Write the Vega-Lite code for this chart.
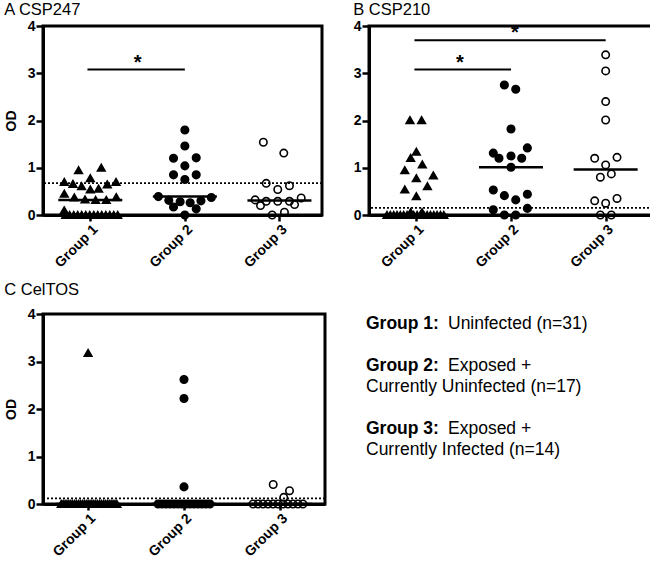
{
  "$schema": "https://vega.github.io/schema/vega-lite/v6.json",
  "padding": {"left": 2, "top": 0, "right": 0, "bottom": 0},
  "background": "white",
  "config": {
    "font": "Liberation Sans",
    "view": {"stroke": "black", "strokeWidth": 3},
    "axis": {
      "grid": false, "domainColor": "black", "domainWidth": 3, "tickColor": "black", "tickWidth": 2.5, "tickSize": 6,
      "labelFont": "Liberation Sans", "labelFontWeight": "bold", "labelFontSize": 14, "labelColor": "black", "labelPadding": 1,
      "labelFlush": false, "labelOverlap": false,
      "titleFont": "Liberation Sans", "titleFontWeight": "bold", "titleFontSize": 14, "titleColor": "black", "titlePadding": 9
    },
    "axisX": {"labelAngle": -45, "labelAlign": "right", "labelBaseline": "top", "labelPadding": 1, "labelFontSize": 14},
    "axisY": {"tickSize": 7},
    "title": {"anchor": "start", "frame": "bounds", "fontSize": 16.5, "fontWeight": "normal", "font": "Liberation Sans", "color": "black", "offset": 1}
  },
  "datasets": {
    "pts": [
      {"p":"A","g":1,"x":0.876,"od":0.95},{"p":"A","g":1,"x":1.116,"od":1.0},{"p":"A","g":1,"x":1.0,"od":0.78},
      {"p":"A","g":1,"x":0.725,"od":0.70},{"p":"A","g":1,"x":0.817,"od":0.66},{"p":"A","g":1,"x":0.908,"od":0.61},{"p":"A","g":1,"x":1.0,"od":0.54},{"p":"A","g":1,"x":1.088,"od":0.56},{"p":"A","g":1,"x":1.18,"od":0.65},{"p":"A","g":1,"x":1.272,"od":0.70},
      {"p":"A","g":1,"x":0.725,"od":0.45},{"p":"A","g":1,"x":0.831,"od":0.37},{"p":"A","g":1,"x":0.944,"od":0.33},{"p":"A","g":1,"x":1.056,"od":0.32},{"p":"A","g":1,"x":1.169,"od":0.32},{"p":"A","g":1,"x":1.275,"od":0.38},
      {"p":"A","g":1,"x":0.725,"od":0.10},
      {"p":"A","g":1,"x":0.74,"od":0},{"p":"A","g":1,"x":0.782,"od":0},{"p":"A","g":1,"x":0.825,"od":0},{"p":"A","g":1,"x":0.867,"od":0},{"p":"A","g":1,"x":0.909,"od":0},{"p":"A","g":1,"x":0.952,"od":0},{"p":"A","g":1,"x":0.994,"od":0},
      {"p":"A","g":1,"x":1.037,"od":0},{"p":"A","g":1,"x":1.079,"od":0},{"p":"A","g":1,"x":1.121,"od":0},{"p":"A","g":1,"x":1.164,"od":0},{"p":"A","g":1,"x":1.206,"od":0},{"p":"A","g":1,"x":1.248,"od":0},{"p":"A","g":1,"x":1.29,"od":0},

      {"p":"A","g":2,"x":2.0,"od":1.80},{"p":"A","g":2,"x":2.0,"od":1.46},{"p":"A","g":2,"x":1.88,"od":1.20},{"p":"A","g":2,"x":2.12,"od":1.21},{"p":"A","g":2,"x":2.0,"od":1.04},
      {"p":"A","g":2,"x":1.88,"od":0.85},{"p":"A","g":2,"x":2.12,"od":0.85},{"p":"A","g":2,"x":2.0,"od":0.75},{"p":"A","g":2,"x":1.72,"od":0.39},{"p":"A","g":2,"x":2.28,"od":0.37},
      {"p":"A","g":2,"x":1.83,"od":0.31},{"p":"A","g":2,"x":1.95,"od":0.28},{"p":"A","g":2,"x":2.056,"od":0.26},{"p":"A","g":2,"x":2.17,"od":0.30},{"p":"A","g":2,"x":1.88,"od":0.17},
      {"p":"A","g":2,"x":2.12,"od":0.13},{"p":"A","g":2,"x":2.0,"od":0.0},

      {"p":"A","g":3,"x":2.83,"od":1.54},{"p":"A","g":3,"x":3.046,"od":1.31},{"p":"A","g":3,"x":2.86,"od":0.67},{"p":"A","g":3,"x":3.106,"od":0.62},{"p":"A","g":3,"x":2.982,"od":0.54},
      {"p":"A","g":3,"x":2.743,"od":0.32},{"p":"A","g":3,"x":3.23,"od":0.36},{"p":"A","g":3,"x":2.86,"od":0.29},{"p":"A","g":3,"x":2.982,"od":0.29},{"p":"A","g":3,"x":3.106,"od":0.29},
      {"p":"A","g":3,"x":2.80,"od":0.20},{"p":"A","g":3,"x":3.16,"od":0.22},{"p":"A","g":3,"x":2.923,"od":0.0},{"p":"A","g":3,"x":3.053,"od":0.06},

      {"p":"B","g":1,"x":0.933,"od":2.01},{"p":"B","g":1,"x":1.056,"od":2.01},{"p":"B","g":1,"x":1.0,"od":1.34},{"p":"B","g":1,"x":0.94,"od":1.21},{"p":"B","g":1,"x":1.063,"od":1.07},
      {"p":"B","g":1,"x":0.878,"od":0.95},{"p":"B","g":1,"x":1.0,"od":0.78},{"p":"B","g":1,"x":1.18,"od":0.84},{"p":"B","g":1,"x":1.117,"od":0.61},{"p":"B","g":1,"x":0.878,"od":0.54},
      {"p":"B","g":1,"x":1.0,"od":0.40},{"p":"B","g":1,"x":0.94,"od":0.06},{"p":"B","g":1,"x":1.06,"od":0.06},
      {"p":"B","g":1,"x":0.69,"od":0},{"p":"B","g":1,"x":0.725,"od":0},{"p":"B","g":1,"x":0.761,"od":0},{"p":"B","g":1,"x":0.796,"od":0},{"p":"B","g":1,"x":0.831,"od":0},{"p":"B","g":1,"x":0.866,"od":0},
      {"p":"B","g":1,"x":0.902,"od":0},{"p":"B","g":1,"x":0.937,"od":0},{"p":"B","g":1,"x":0.972,"od":0},{"p":"B","g":1,"x":1.008,"od":0},{"p":"B","g":1,"x":1.043,"od":0},{"p":"B","g":1,"x":1.078,"od":0},
      {"p":"B","g":1,"x":1.114,"od":0},{"p":"B","g":1,"x":1.149,"od":0},{"p":"B","g":1,"x":1.184,"od":0},{"p":"B","g":1,"x":1.219,"od":0},{"p":"B","g":1,"x":1.255,"od":0},{"p":"B","g":1,"x":1.29,"od":0},

      {"p":"B","g":2,"x":1.93,"od":2.75},{"p":"B","g":2,"x":2.05,"od":2.66},{"p":"B","g":2,"x":2.0,"od":1.82},{"p":"B","g":2,"x":1.813,"od":1.31},{"p":"B","g":2,"x":1.873,"od":1.20},
      {"p":"B","g":2,"x":2.0,"od":1.25},{"p":"B","g":2,"x":2.113,"od":1.20},{"p":"B","g":2,"x":2.173,"od":1.42},{"p":"B","g":2,"x":2.0,"od":1.01},{"p":"B","g":2,"x":1.813,"od":0.53},
      {"p":"B","g":2,"x":1.93,"od":0.41},{"p":"B","g":2,"x":2.05,"od":0.32},{"p":"B","g":2,"x":2.173,"od":0.44},{"p":"B","g":2,"x":1.813,"od":0.11},{"p":"B","g":2,"x":2.173,"od":0.14},
      {"p":"B","g":2,"x":1.93,"od":0.0},{"p":"B","g":2,"x":2.05,"od":0.0},

      {"p":"B","g":3,"x":3.0,"od":3.39},{"p":"B","g":3,"x":3.0,"od":3.05},{"p":"B","g":3,"x":3.0,"od":2.40},{"p":"B","g":3,"x":3.0,"od":2.01},{"p":"B","g":3,"x":2.884,"od":1.20},
      {"p":"B","g":3,"x":3.12,"od":1.22},{"p":"B","g":3,"x":3.0,"od":1.06},{"p":"B","g":3,"x":2.944,"od":0.80},{"p":"B","g":3,"x":3.06,"od":0.87},{"p":"B","g":3,"x":2.884,"od":0.30},
      {"p":"B","g":3,"x":3.0,"od":0.25},{"p":"B","g":3,"x":3.12,"od":0.35},{"p":"B","g":3,"x":2.944,"od":0.0},{"p":"B","g":3,"x":3.06,"od":0.0},

      {"p":"C","g":1,"x":1.0,"od":3.18},
      {"p":"C","g":1,"x":0.72,"od":0},{"p":"C","g":1,"x":0.74,"od":0},{"p":"C","g":1,"x":0.76,"od":0},{"p":"C","g":1,"x":0.78,"od":0},{"p":"C","g":1,"x":0.80,"od":0},{"p":"C","g":1,"x":0.82,"od":0},
      {"p":"C","g":1,"x":0.84,"od":0},{"p":"C","g":1,"x":0.86,"od":0},{"p":"C","g":1,"x":0.88,"od":0},{"p":"C","g":1,"x":0.90,"od":0},{"p":"C","g":1,"x":0.92,"od":0},{"p":"C","g":1,"x":0.94,"od":0},
      {"p":"C","g":1,"x":0.96,"od":0},{"p":"C","g":1,"x":0.98,"od":0},{"p":"C","g":1,"x":1.00,"od":0},{"p":"C","g":1,"x":1.02,"od":0},{"p":"C","g":1,"x":1.04,"od":0},{"p":"C","g":1,"x":1.06,"od":0},
      {"p":"C","g":1,"x":1.08,"od":0},{"p":"C","g":1,"x":1.10,"od":0},{"p":"C","g":1,"x":1.12,"od":0},{"p":"C","g":1,"x":1.14,"od":0},{"p":"C","g":1,"x":1.16,"od":0},{"p":"C","g":1,"x":1.18,"od":0},
      {"p":"C","g":1,"x":1.20,"od":0},{"p":"C","g":1,"x":1.22,"od":0},{"p":"C","g":1,"x":1.24,"od":0},{"p":"C","g":1,"x":1.26,"od":0},{"p":"C","g":1,"x":1.28,"od":0},{"p":"C","g":1,"x":1.30,"od":0},

      {"p":"C","g":2,"x":2.0,"od":2.62},{"p":"C","g":2,"x":2.0,"od":2.22},{"p":"C","g":2,"x":2.0,"od":0.36},
      {"p":"C","g":2,"x":1.73,"od":0},{"p":"C","g":2,"x":1.772,"od":0},{"p":"C","g":2,"x":1.813,"od":0},{"p":"C","g":2,"x":1.855,"od":0},{"p":"C","g":2,"x":1.896,"od":0},{"p":"C","g":2,"x":1.938,"od":0},
      {"p":"C","g":2,"x":1.979,"od":0},{"p":"C","g":2,"x":2.021,"od":0},{"p":"C","g":2,"x":2.062,"od":0},{"p":"C","g":2,"x":2.104,"od":0},{"p":"C","g":2,"x":2.145,"od":0},{"p":"C","g":2,"x":2.187,"od":0},
      {"p":"C","g":2,"x":2.228,"od":0},{"p":"C","g":2,"x":2.27,"od":0},

      {"p":"C","g":3,"x":2.93,"od":0.41},{"p":"C","g":3,"x":3.10,"od":0.28},{"p":"C","g":3,"x":3.04,"od":0.14},
      {"p":"C","g":3,"x":2.72,"od":0},{"p":"C","g":3,"x":2.772,"od":0},{"p":"C","g":3,"x":2.824,"od":0},{"p":"C","g":3,"x":2.876,"od":0},{"p":"C","g":3,"x":2.928,"od":0},{"p":"C","g":3,"x":2.98,"od":0},
      {"p":"C","g":3,"x":3.032,"od":0},{"p":"C","g":3,"x":3.084,"od":0},{"p":"C","g":3,"x":3.136,"od":0},{"p":"C","g":3,"x":3.188,"od":0},{"p":"C","g":3,"x":3.24,"od":0}
    ],
    "legendText": [
      {"line": 0, "b": "Group 1:", "t": "Uninfected (n=31)"},
      {"line": 2, "b": "Group 2:", "t": "Exposed +"},
      {"line": 3, "b": "", "t": "Currently Uninfected (n=17)"},
      {"line": 5, "b": "Group 3:", "t": "Exposed +"},
      {"line": 6, "b": "", "t": "Currently Infected (n=14)"}
    ]
  },
  "vconcat": [
    {
      "spacing": 26,
      "hconcat": [
        {
          "width": 279, "height": 189,
          "title": {"text": "A CSP247"},
          "layer": [
            {"data": {"values": [{}]}, "mark": {"type": "rule", "strokeDash": [2, 2], "strokeWidth": 1.8, "color": "black"}, "encoding": {"y": {"datum": 0.675, "type": "quantitative"}}},
            {"data": {"name": "pts"}, "transform": [{"filter": "datum.p === 'A'"}],
             "mark": {"type": "point", "filled": true, "opacity": 1, "stroke": "black", "strokeWidth": 1.6},
             "encoding": {
               "x": {"field": "x", "type": "quantitative", "scale": {"domain": [0.5, 3.45], "nice": false, "zero": false}, "axis": {"values": [1, 2, 3], "labelExpr": "'Group ' + datum.value", "title": null}},
               "y": {"field": "od", "type": "quantitative", "scale": {"domain": [0, 4], "nice": false}, "axis": {"values": [0, 1, 2, 3, 4], "title": "OD"}},
               "shape": {"field": "g", "type": "nominal", "scale": {"domain": [1, 2, 3], "range": ["triangle-up", "circle", "circle"]}, "legend": null},
               "fill": {"field": "g", "type": "nominal", "scale": {"domain": [1, 2, 3], "range": ["black", "black", "transparent"]}, "legend": null},
               "size": {"field": "g", "type": "ordinal", "scale": {"domain": [1, 2, 3], "range": [58, 55, 60]}, "legend": null}
             }},
            {"data": {"name": "pts"}, "transform": [{"filter": "datum.p === 'A'"}, {"aggregate": [{"op": "median", "field": "od", "as": "med"}], "groupby": ["g"]}],
             "mark": {"type": "tick", "orient": "horizontal", "size": 64, "thickness": 2.5, "color": "black", "opacity": 1},
             "encoding": {"x": {"field": "g", "type": "quantitative"}, "y": {"field": "med", "type": "quantitative"}}},
            {"data": {"values": [{}]}, "mark": {"type": "rule", "strokeWidth": 2, "color": "black"}, "encoding": {"x": {"datum": 0.97}, "x2": {"datum": 2.0}, "y": {"datum": 3.08}}},
            {"data": {"values": [{}]}, "mark": {"type": "text", "text": "*", "fontSize": 20, "fontWeight": "bold", "baseline": "alphabetic", "align": "center", "color": "black"}, "encoding": {"x": {"datum": 1.5}, "y": {"datum": 3.1}}}
          ]
        },
        {
          "width": 284, "height": 189,
          "title": {"text": "B CSP210"},
          "layer": [
            {"data": {"values": [{}]}, "mark": {"type": "rule", "strokeDash": [2, 2], "strokeWidth": 1.8, "color": "black"}, "encoding": {"y": {"datum": 0.15, "type": "quantitative"}}},
            {"data": {"name": "pts"}, "transform": [{"filter": "datum.p === 'B'"}],
             "mark": {"type": "point", "filled": true, "opacity": 1, "stroke": "black", "strokeWidth": 1.6},
             "encoding": {
               "x": {"field": "x", "type": "quantitative", "scale": {"domain": [0.5, 3.5], "nice": false, "zero": false}, "axis": {"values": [1, 2, 3], "labelExpr": "'Group ' + datum.value", "title": null}},
               "y": {"field": "od", "type": "quantitative", "scale": {"domain": [0, 4], "nice": false}, "axis": {"values": [0, 1, 2, 3, 4], "title": null}},
               "shape": {"field": "g", "type": "nominal", "scale": {"domain": [1, 2, 3], "range": ["triangle-up", "circle", "circle"]}, "legend": null},
               "fill": {"field": "g", "type": "nominal", "scale": {"domain": [1, 2, 3], "range": ["black", "black", "transparent"]}, "legend": null},
               "size": {"field": "g", "type": "ordinal", "scale": {"domain": [1, 2, 3], "range": [58, 55, 60]}, "legend": null}
             }},
            {"data": {"name": "pts"}, "transform": [{"filter": "datum.p === 'B'"}, {"aggregate": [{"op": "median", "field": "od", "as": "med"}], "groupby": ["g"]}],
             "mark": {"type": "tick", "orient": "horizontal", "size": 64, "thickness": 2.5, "color": "black", "opacity": 1},
             "encoding": {"x": {"field": "g", "type": "quantitative"}, "y": {"field": "med", "type": "quantitative"}}},
            {"data": {"values": [{}]}, "mark": {"type": "rule", "strokeWidth": 2, "color": "black"}, "encoding": {"x": {"datum": 0.98}, "x2": {"datum": 2.0}, "y": {"datum": 3.08}}},
            {"data": {"values": [{}]}, "mark": {"type": "rule", "strokeWidth": 2, "color": "black"}, "encoding": {"x": {"datum": 0.98}, "x2": {"datum": 3.0}, "y": {"datum": 3.70}}},
            {"data": {"values": [{}]}, "mark": {"type": "text", "text": "*", "fontSize": 20, "fontWeight": "bold", "baseline": "alphabetic", "align": "center", "color": "black"}, "encoding": {"x": {"datum": 1.46}, "y": {"datum": 3.1}}},
            {"data": {"values": [{}]}, "mark": {"type": "text", "text": "*", "fontSize": 20, "fontWeight": "bold", "baseline": "alphabetic", "align": "center", "color": "black"}, "encoding": {"x": {"datum": 2.04}, "y": {"datum": 3.72}}}
          ]
        }
      ]
    },
    {
      "spacing": 38,
      "hconcat": [
        {
          "width": 282, "height": 190,
          "title": {"text": "C CelTOS", "offset": 9},
          "layer": [
            {"data": {"values": [{}]}, "mark": {"type": "rule", "strokeDash": [2, 2], "strokeWidth": 1.8, "color": "black"}, "encoding": {"y": {"datum": 0.12, "type": "quantitative"}}},
            {"data": {"name": "pts"}, "transform": [{"filter": "datum.p === 'C'"}],
             "mark": {"type": "point", "filled": true, "opacity": 1, "stroke": "black", "strokeWidth": 1.6},
             "encoding": {
               "x": {"field": "x", "type": "quantitative", "scale": {"domain": [0.53, 3.47], "nice": false, "zero": false}, "axis": {"values": [1, 2, 3], "labelExpr": "'Group ' + datum.value", "title": null}},
               "y": {"field": "od", "type": "quantitative", "scale": {"domain": [0, 4], "nice": false}, "axis": {"values": [0, 1, 2, 3, 4], "title": "OD"}},
               "shape": {"field": "g", "type": "nominal", "scale": {"domain": [1, 2, 3], "range": ["triangle-up", "circle", "circle"]}, "legend": null},
               "fill": {"field": "g", "type": "nominal", "scale": {"domain": [1, 2, 3], "range": ["black", "black", "transparent"]}, "legend": null},
               "size": {"field": "g", "type": "ordinal", "scale": {"domain": [1, 2, 3], "range": [58, 55, 60]}, "legend": null}
             }},
            {"data": {"name": "pts"}, "transform": [{"filter": "datum.p === 'C'"}, {"aggregate": [{"op": "median", "field": "od", "as": "med"}], "groupby": ["g"]}],
             "mark": {"type": "tick", "orient": "horizontal", "size": 64, "thickness": 2.5, "color": "black", "opacity": 1},
             "encoding": {"x": {"field": "g", "type": "quantitative"}, "y": {"field": "med", "type": "quantitative"}}}
          ]
        },
        {
          "width": 270, "height": 190,
          "view": {"stroke": null},
          "data": {"name": "legendText"},
          "layer": [
            {"mark": {"type": "text", "align": "left", "baseline": "alphabetic", "fontSize": 17.5, "fontWeight": "bold", "color": "black"},
             "encoding": {
               "x": {"datum": 0, "type": "quantitative", "scale": {"domain": [0, 1]}, "axis": null},
               "y": {"field": "line", "type": "quantitative", "scale": {"domain": [8.33, -0.714], "nice": false, "zero": false}, "axis": null},
               "text": {"field": "b"}
             }},
            {"transform": [{"filter": "datum.b !== ''"}],
             "mark": {"type": "text", "align": "left", "baseline": "alphabetic", "fontSize": 17.5, "fontWeight": "normal", "color": "black", "dx": 82},
             "encoding": {
               "x": {"datum": 0, "type": "quantitative"},
               "y": {"field": "line", "type": "quantitative"},
               "text": {"field": "t"}
             }},
            {"transform": [{"filter": "datum.b === ''"}],
             "mark": {"type": "text", "align": "left", "baseline": "alphabetic", "fontSize": 17.5, "fontWeight": "normal", "color": "black"},
             "encoding": {
               "x": {"datum": 0, "type": "quantitative"},
               "y": {"field": "line", "type": "quantitative"},
               "text": {"field": "t"}
             }}
          ]
        }
      ]
    }
  ],
  "spacing": 8
}
